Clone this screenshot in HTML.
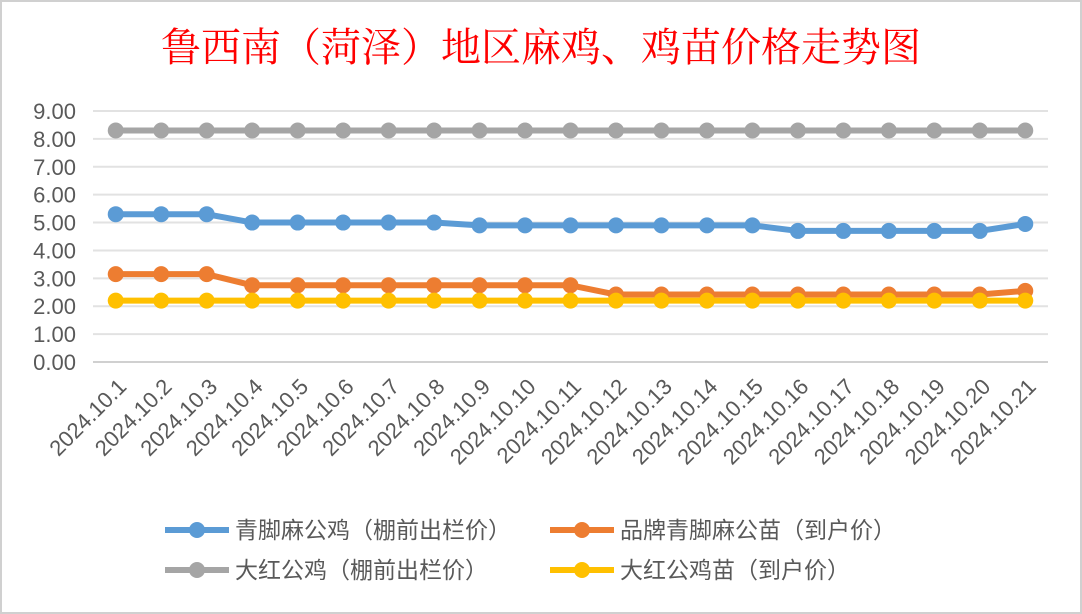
<!DOCTYPE html>
<html><head><meta charset="utf-8"><style>
body{margin:0;background:#fff;}
svg{display:block;font-family:"Liberation Sans","Noto Sans CJK SC",sans-serif;}
</style></head><body>
<svg id="c" width="1082" height="614" viewBox="0 0 1082 614">
<rect x="1" y="1" width="1080" height="612" fill="#fff" stroke="#d0d0d0" stroke-width="2"/>
<text x="541" y="61" text-anchor="middle" font-size="40" fill="#ff0000" font-family="'Noto Serif CJK SC','Noto Sans CJK SC',serif">鲁西南（菏泽）地区麻鸡、鸡苗价格走势图</text>
<g id="grid"></g><g id="ylab"></g><g id="xlab"></g><g id="series"></g><g id="legend"></g>
</svg>
<script>
const categories=["2024.10.1","2024.10.2","2024.10.3","2024.10.4","2024.10.5","2024.10.6","2024.10.7","2024.10.8","2024.10.9","2024.10.10","2024.10.11","2024.10.12","2024.10.13","2024.10.14","2024.10.15","2024.10.16","2024.10.17","2024.10.18","2024.10.19","2024.10.20","2024.10.21"];
const blueVals=[5.3,5.3,5.3,5.0,5.0,5.0,5.0,5.0,4.9,4.9,4.9,4.9,4.9,4.9,4.9,4.7,4.7,4.7,4.7,4.7,4.95];
const orangeVals=[3.15,3.15,3.15,2.75,2.75,2.75,2.75,2.75,2.75,2.75,2.75,2.42,2.42,2.42,2.42,2.42,2.42,2.42,2.42,2.42,2.55];
const grayVals=[8.3,8.3,8.3,8.3,8.3,8.3,8.3,8.3,8.3,8.3,8.3,8.3,8.3,8.3,8.3,8.3,8.3,8.3,8.3,8.3,8.3];
const yellowVals=[2.2,2.2,2.2,2.2,2.2,2.2,2.2,2.2,2.2,2.2,2.2,2.2,2.2,2.2,2.2,2.2,2.2,2.2,2.2,2.2,2.2];
const yTicks=["0.00","1.00","2.00","3.00","4.00","5.00","6.00","7.00","8.00","9.00"];
const seriesNames=["青脚麻公鸡（棚前出栏价）","品牌青脚麻公苗（到户价）","大红公鸡（棚前出栏价）","大红公鸡苗（到户价）"];
const NS="http://www.w3.org/2000/svg";
const L=93,R=1048,T=111,B=362;
const y=v=>B-(v/9)*(B-T);
const step=(R-L)/categories.length;
const x=i=>L+step*(i+0.5);
function mk(t,a,p){const e=document.createElementNS(NS,t);for(const k in a)e.setAttribute(k,a[k]);p.appendChild(e);return e;}
const g=document.getElementById('grid'),yl=document.getElementById('ylab'),xl=document.getElementById('xlab');
yTicks.forEach((t,i)=>{const v=parseFloat(t);
const ln=mk('line',{x1:L,x2:R,y1:y(v),y2:y(v),stroke:i==0?'#d0d0d0':'#e2e2e2','stroke-width':2},g);


const tx=mk('text',{x:76,y:y(v)+8,'text-anchor':'end','font-size':22,fill:'#595959'},yl);tx.textContent=t;

});
categories.forEach((c,i)=>{const tx=mk('text',{x:0,y:0,'text-anchor':'end','font-size':22,fill:'#595959',transform:`translate(${x(i)+12},${B+26}) rotate(-45)`},xl);tx.textContent=c;

});
const colors=["#5b9bd5","#ed7d31","#a5a5a5","#ffc000"];
const data=[blueVals,orangeVals,grayVals,yellowVals];
const sg=document.getElementById('series');
[2,0,1,3].forEach(s=>{const grp=mk('g',{},sg);


mk('polyline',{points:data[s].map((v,i)=>x(i)+','+y(v)).join(' '),fill:'none',stroke:colors[s],'stroke-width':6,'stroke-linejoin':'round'},grp);
data[s].forEach((v,i)=>{const c=mk('circle',{cx:x(i),cy:y(v),r:8,fill:colors[s]},grp);

});});
const lg=document.getElementById('legend');
const pos=[[165,530],[550,530],[165,570],[550,570]];
seriesNames.forEach((n,s)=>{const [lx,ly]=pos[s];const grp=mk('g',{},lg);


mk('line',{x1:lx,x2:lx+64,y1:ly,y2:ly,stroke:colors[s],'stroke-width':6},grp);
mk('circle',{cx:lx+32,cy:ly,r:8,fill:colors[s]},grp);
const t=mk('text',{x:lx+70,y:ly+8,'font-size':23,fill:'#595959'},grp);t.textContent=n;});
</script>
</body></html>
